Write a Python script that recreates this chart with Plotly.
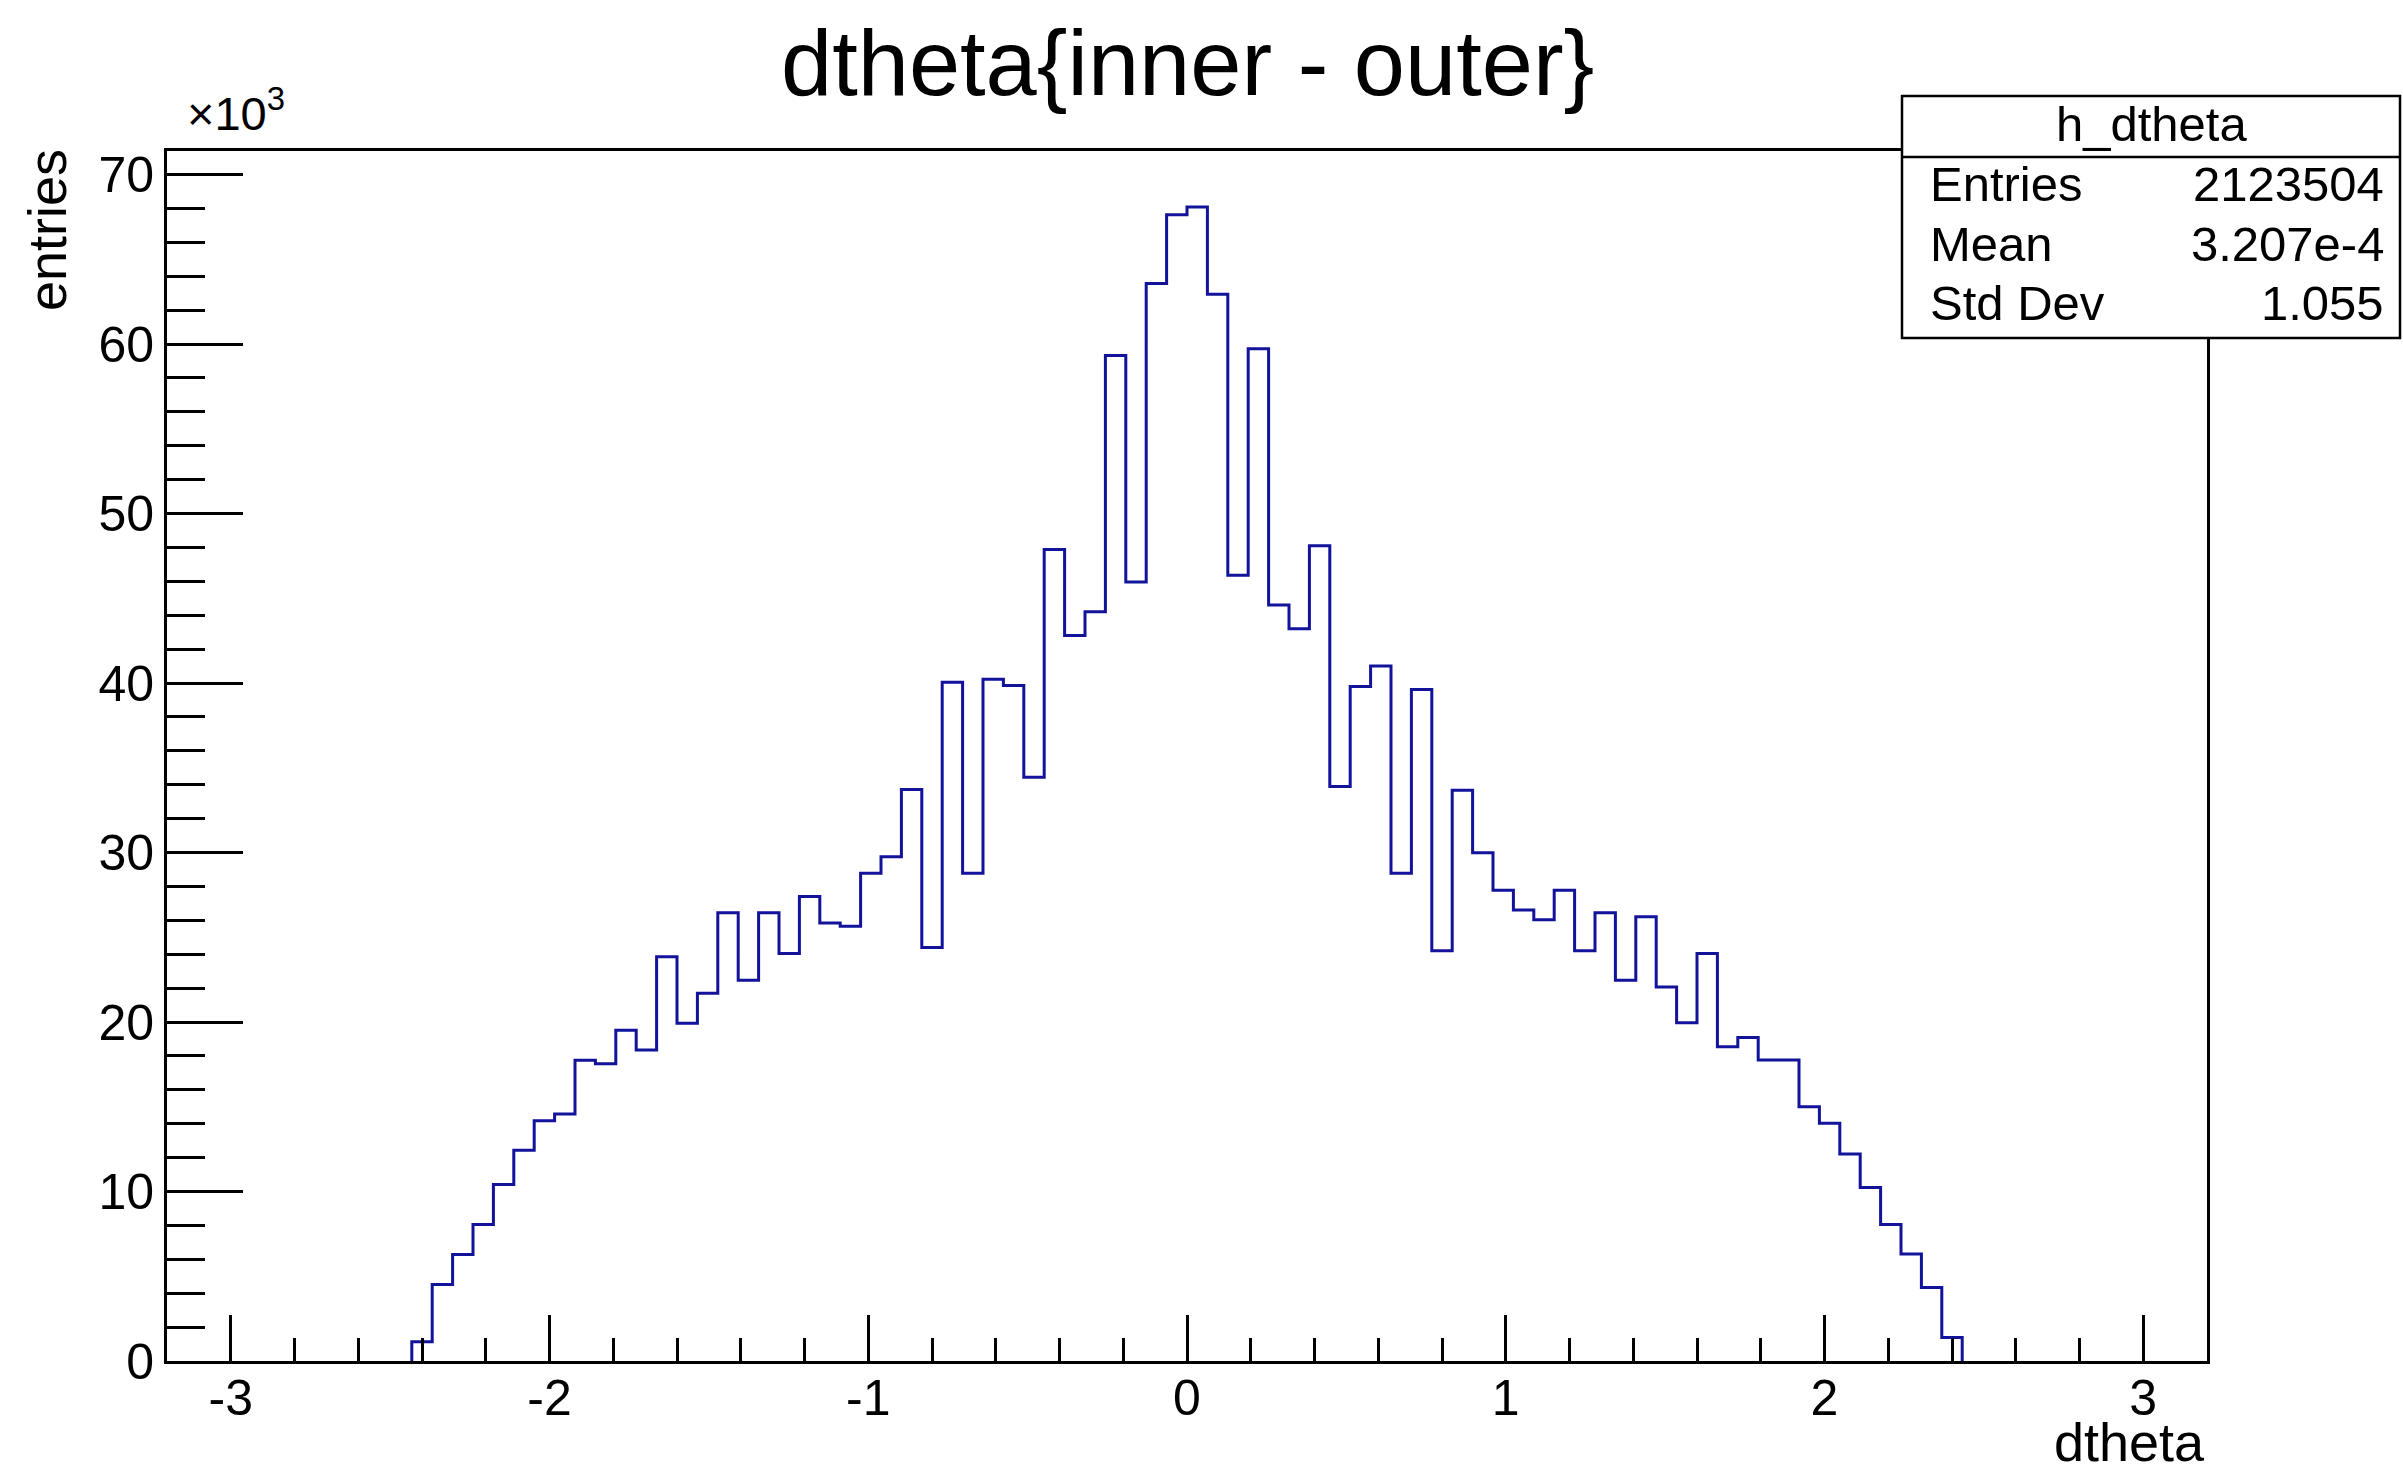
import plotly.graph_objects as go

# ---------------- data ----------------
x_min = -3.2
x_max = 3.2
n_bins = 100

# bin contents (x10^3 entries), bins 0..99 from -3.2 to 3.2
empty_low = [0.0] * 12
filled = [
    1.14, 4.52, 6.29, 8.06, 10.42, 12.43, 14.18, 14.57,
    17.74, 17.54, 19.52, 18.35, 23.85, 19.92, 21.69, 26.45,
    22.47, 26.45, 24.04, 27.41, 25.84, 25.65, 28.78, 29.75,
    33.72, 24.40, 40.05, 28.78, 40.22, 39.86, 34.44, 47.88,
    42.80, 44.20, 59.32, 45.96, 63.57, 67.63, 68.08, 62.94,
    46.36, 59.73, 44.61, 43.21, 48.10, 33.90, 39.80, 41.01,
    28.78, 39.62, 24.21, 33.67, 29.98, 27.77, 26.61, 26.04,
    27.77, 24.21, 26.45, 22.47, 26.21, 22.07, 19.95, 24.04,
    18.54, 19.09, 17.76, 17.76, 15.00, 14.02, 12.21, 10.24,
    8.06, 6.31, 4.33, 1.38,
]
empty_high = [0.0] * 12
counts_k = empty_low + filled + empty_high

x_tickvals = [-3, -2, -1, 0, 1, 2, 3]
x_ticktext = ["-3", "-2", "-1", "0", "1", "2", "3"]
y_tickvals = [0, 10, 20, 30, 40, 50, 60, 70]
y_ticktext = ["0", "10", "20", "30", "40", "50", "60", "70"]

stats_labels = ["Entries", "Mean", "Std Dev"]
stats_values = ["2123504", "3.207e-4", "1.055"]
hist_name = "h_dtheta"
title_text = "dtheta{inner - outer}"
x_title = "dtheta"
y_title = "entries"

# ---------------- figure ----------------
bw = (x_max - x_min) / n_bins
edges = [x_min + i * bw for i in range(n_bins + 1)]

# draw the outline over the filled range (empty bins lie on the frame line)
nz = [i for i, c in enumerate(counts_k) if c > 0]
i0, i1 = nz[0], nz[-1]
xs = [edges[i0]] + edges[i0:i1 + 2]
ys = [0.0] + counts_k[i0:i1 + 1] + [0.0]

FONT = "Liberation Sans, Arial, Helvetica, sans-serif"
LINE_COL = "#12129a"

fig = go.Figure()
fig.add_trace(go.Scatter(
    x=xs, y=ys, mode="lines", line_shape="hv",
    line=dict(color=LINE_COL, width=3), showlegend=False, hoverinfo="skip",
))

W, H = 2403, 1469
ml, mr, mt, mb = 167, 196, 151, 108

fig.update_layout(
    width=W, height=H,
    margin=dict(l=ml, r=mr, t=mt, b=mb, pad=0),
    paper_bgcolor="white", plot_bgcolor="white",
    font=dict(family=FONT, color="black", size=50),
    showlegend=False,
)

fig.update_xaxes(
    range=[x_min, x_max], showgrid=False, zeroline=False,
    showline=True, linecolor="black", linewidth=3, mirror=True,
    ticks="inside", ticklen=46, tickwidth=3, tickcolor="black",
    tickvals=x_tickvals, ticktext=x_ticktext,
    tickfont=dict(size=50, family=FONT), ticklabelstandoff=-9,
    minor=dict(ticks="inside", ticklen=23, tickwidth=3, tickcolor="black",
               dtick=0.2, tick0=0, showgrid=False),
)
fig.update_yaxes(
    range=[0, 71.39], showgrid=False, zeroline=False,
    showline=True, linecolor="black", linewidth=3, mirror=True,
    ticks="inside", ticklen=76, tickwidth=3, tickcolor="black",
    tickvals=y_tickvals, ticktext=y_ticktext,
    tickfont=dict(size=50, family=FONT),
    minor=dict(ticks="inside", ticklen=38, tickwidth=3, tickcolor="black",
               dtick=2, tick0=0, showgrid=False),
)

pw = W - ml - mr
ph = H - mt - mb

def px(xp):
    return (xp - ml) / pw

def py(yp):
    return (H - mb - yp) / ph

ann = []
ann.append(dict(text=title_text, x=0.5, y=py(63), xref="paper", yref="paper",
                xanchor="center", yanchor="middle", showarrow=False,
                font=dict(size=92, family=FONT)))
ann.append(dict(text=y_title, x=px(47), y=py(230), xref="paper", yref="paper",
                xanchor="center", yanchor="middle", textangle=-90, showarrow=False,
                font=dict(size=54, family=FONT)))
ann.append(dict(text=x_title, x=1.0, y=py(1442), xref="paper", yref="paper",
                xanchor="right", yanchor="middle", showarrow=False,
                font=dict(size=54, family=FONT)))
ann.append(dict(text="×10<sup>3</sup>", x=px(185), y=py(110), xref="paper", yref="paper",
                xanchor="left", yanchor="middle", showarrow=False,
                font=dict(size=47, family=FONT)))

# stats box
bx0, bx1 = px(1902), px(2400)
by0, by1 = py(338), py(96)
bsep = py(157)
shapes = [
    dict(type="rect", xref="paper", yref="paper", x0=bx0, x1=bx1, y0=by0, y1=by1,
         line=dict(color="black", width=2.5), fillcolor="white", layer="above"),
    dict(type="line", xref="paper", yref="paper", x0=bx0, x1=bx1, y0=bsep, y1=bsep,
         line=dict(color="black", width=2.5), layer="above"),
]
ann.append(dict(text=hist_name, x=(bx0 + bx1) / 2, y=py(124), xref="paper", yref="paper",
                xanchor="center", yanchor="middle", showarrow=False,
                font=dict(size=49, family=FONT)))
row_y = [184, 244, 303]
for lab, val, ry in zip(stats_labels, stats_values, row_y):
    ann.append(dict(text=lab, x=px(1928), y=py(ry), xref="paper", yref="paper",
                    xanchor="left", yanchor="middle", showarrow=False,
                    font=dict(size=49, family=FONT)))
    ann.append(dict(text=val, x=px(2386), y=py(ry), xref="paper", yref="paper",
                    xanchor="right", yanchor="middle", showarrow=False,
                    font=dict(size=49, family=FONT)))

fig.update_layout(annotations=ann, shapes=shapes)

fig.write_html("out.html", config={"responsive": False, "displayModeBar": False},
               post_script="document.body.style.margin='0';document.body.style.overflow='hidden';")
